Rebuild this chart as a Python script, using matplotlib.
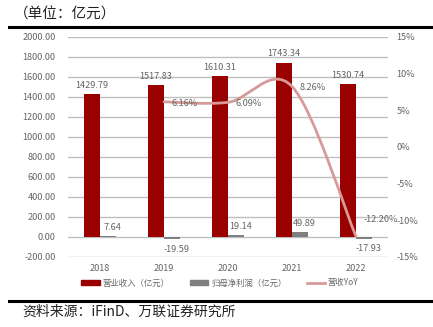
import matplotlib
matplotlib.use("Agg")
import matplotlib.pyplot as plt
from matplotlib.path import Path
from matplotlib.patches import PathPatch
from matplotlib.lines import Line2D
from matplotlib.patches import Patch
import numpy as np

plt.rcParams['font.family'] = ['Noto Sans CJK SC', 'DejaVu Sans']
plt.rcParams['axes.unicode_minus'] = False

years = ["2018", "2019", "2020", "2021", "2022"]
revenue = [1429.79, 1517.83, 1610.31, 1743.34, 1530.74]
net_profit = [7.64, -19.59, 19.14, 49.89, -17.93]
yoy = [None, 6.16, 6.09, 8.26, -12.20]

RED = "#990000"
GRAY = "#7F7F7F"
PINK = "#D89A99"
TXT = "#666666"
GRID = "#BFBFBF"


def smooth_path(xs, ys, tension=1 / 6):
    # cubic bezier through the points, same idea as office "smoothed line"
    pts = np.column_stack([xs, ys]).astype(float)
    n = len(pts)
    verts = [tuple(pts[0])]
    codes = [Path.MOVETO]
    for i in range(n - 1):
        p0 = pts[i - 1] if i > 0 else pts[i]
        p1, p2 = pts[i], pts[i + 1]
        p3 = pts[i + 2] if i + 2 < n else pts[i + 1]
        c1 = p1 + (p2 - p0) * tension
        c2 = p2 - (p3 - p1) * tension
        verts += [tuple(c1), tuple(c2), tuple(p2)]
        codes += [Path.CURVE4] * 3
    return Path(verts, codes)


fig = plt.figure(figsize=(4.33, 3.27), dpi=100)
ax = fig.add_axes([68 / 433, 1 - 257 / 327, 320 / 433, 220 / 327])
ax2 = ax.twinx()

x = np.arange(len(years))
w = 0.25
ax.bar(x - w / 2, revenue, w, color=RED, zorder=3)
ax.bar(x + w / 2, net_profit, w, color=GRAY, zorder=3)

ax.set_xlim(-0.5, len(years) - 0.5)
ax.set_ylim(-200, 2000)
ax.set_yticks(np.arange(-200, 2001, 200))
ax.set_yticklabels([f"{v:.2f}" for v in np.arange(-200, 2001, 200)])
ax.set_xticks(x)
ax.set_xticklabels(years)
ax.yaxis.grid(True, color=GRID, lw=1, zorder=0)
ax.set_axisbelow(True)
for s in ax.spines.values():
    s.set_visible(False)
ax.tick_params(axis="y", length=0, pad=9, labelsize=6.6, labelcolor=TXT)
ax.tick_params(axis="x", length=0, pad=5, labelsize=6.6, labelcolor=TXT)

for xi, v in zip(x, revenue):
    ax.annotate(f"{v:.2f}", (xi - w / 2, v), xytext=(0, 3), textcoords="offset points",
                ha="center", va="bottom", fontsize=6.6, color=TXT)
for xi, v in zip(x, net_profit):
    if v >= 0:
        ax.annotate(f"{v:.2f}", (xi + w / 2, v), xytext=(3, 3), textcoords="offset points",
                    ha="center", va="bottom", fontsize=6.6, color=TXT)
    else:
        ax.annotate(f"{v:.2f}", (xi + w / 2, v), xytext=(3, -4), textcoords="offset points",
                    ha="center", va="top", fontsize=6.6, color=TXT)

# YoY smoothed line on the right axis
ax2.set_ylim(-15, 15)
ax2.set_yticks(np.arange(-15, 16, 5))
ax2.set_yticklabels([f"{v}%" for v in range(-15, 16, 5)])
for s in ax2.spines.values():
    s.set_visible(False)
ax2.tick_params(axis="y", length=0, pad=6, labelsize=6.6, labelcolor=TXT)

yx = [xi for xi, v in zip(x, yoy) if v is not None]
yv = [v for v in yoy if v is not None]
ax2.add_patch(PathPatch(smooth_path(yx, yv), facecolor="none", edgecolor=PINK,
                        lw=2, zorder=4, capstyle="round"))
for xi, v in zip(yx, yv):
    dy = 12 if v < 0 else -1
    ax2.annotate(f"{v:.2f}%", (xi, v), xytext=(5.5, dy),
                 textcoords="offset points", ha="left", va="center",
                 fontsize=6.6, color=TXT, zorder=5)

handles = [Patch(color=RED), Patch(color=GRAY), Line2D([0], [0], color=PINK, lw=2)]
labels = ["营业收入（亿元）", "归母净利润（亿元）", "营收YoY"]
fig.legend(handles, labels, loc="center", bbox_to_anchor=(220 / 433, 1 - 283 / 327),
           ncol=3, frameon=False, fontsize=6, labelcolor=TXT,
           handlelength=2.2, handleheight=0.6, columnspacing=2.5, handletextpad=0.3)

fig.text(14 / 433, 1 - 15 / 327, "（单位：亿元）", fontsize=10.5, ha="left", va="center",
         color="#222222")
fig.add_artist(Line2D([9 / 433, 1], [1 - 26.5 / 327] * 2, color="black", lw=2.2))
fig.add_artist(Line2D([9 / 433, 1], [1 - 300.5 / 327] * 2, color="black", lw=2.2))
fig.text(22 / 433, 1 - 312 / 327, "资料来源：iFinD、万联证券研究所", fontsize=10,
         ha="left", va="center", style="italic", color="#222222")

fig.savefig("out.png", dpi=100)
